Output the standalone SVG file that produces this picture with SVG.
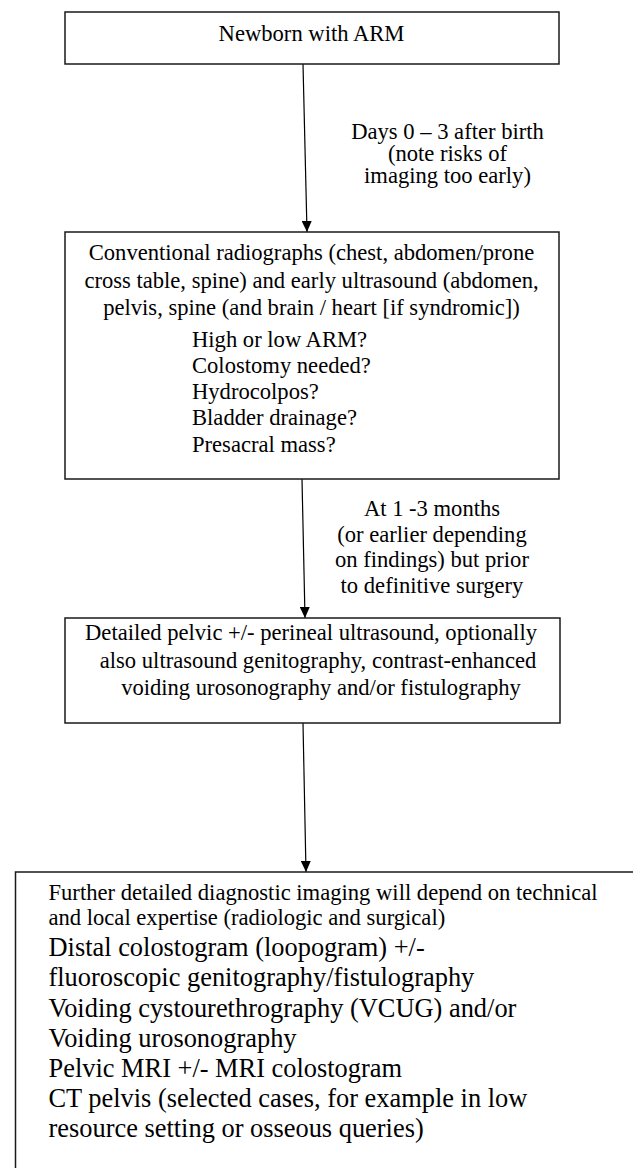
<svg xmlns="http://www.w3.org/2000/svg" width="633" height="1168" viewBox="0 0 633 1168">
<style>
  .box { fill: #ffffff; stroke: #1a1a1a; stroke-width: 1.5; }
  .t { font-family: "Liberation Serif", "Times New Roman", serif; font-size: 22.6px; fill: #000; }
  .big { font-size: 26.4px; }
  .c { text-anchor: middle; }
  .conn { stroke: #000; stroke-width: 1.2; fill: none; marker-end: url(#arr); }
</style>
<defs>
  <marker id="arr" viewBox="0 0 11 10" markerWidth="11" markerHeight="10" refX="11" refY="5" orient="auto" markerUnits="userSpaceOnUse">
    <path d="M0,0 L11,5 L0,10 Z" fill="#000"/>
  </marker>
</defs>
<rect width="633" height="1168" fill="#fff"/>

<g id="connectors">
  <line class="conn" x1="303" y1="64" x2="307" y2="232"/>
  <line class="conn" x1="302" y1="479" x2="305" y2="618"/>
  <line class="conn" x1="303" y1="723" x2="306" y2="872"/>
</g>

<g id="node-newborn">
  <rect class="box" x="65" y="12" width="494" height="52"/>
  <text class="t c" x="311.5" y="41">Newborn with ARM</text>
</g>

<g id="label-days">
  <text class="t c" x="447.5" y="139">Days 0 – 3 after birth</text>
  <text class="t c" x="447.5" y="161">(note risks of</text>
  <text class="t c" x="447.5" y="183">imaging too early)</text>
</g>

<g id="node-radiographs">
  <rect class="box" x="65" y="232" width="494" height="247"/>
  <text class="t c" x="311.5" y="260">Conventional radiographs (chest, abdomen/prone</text>
  <text class="t c" x="311.5" y="288">cross table, spine) and early ultrasound (abdomen,</text>
  <text class="t c" x="311.5" y="315">pelvis, spine (and brain / heart [if syndromic])</text>
  <text class="t" x="192" y="347">High or low ARM?</text>
  <text class="t" x="192" y="373">Colostomy needed?</text>
  <text class="t" x="192" y="399">Hydrocolpos?</text>
  <text class="t" x="192" y="425">Bladder drainage?</text>
  <text class="t" x="192" y="452">Presacral mass?</text>
</g>

<g id="label-months">
  <text class="t c" x="432" y="516">At 1 -3 months</text>
  <text class="t c" x="432" y="541.5">(or earlier depending</text>
  <text class="t c" x="432" y="567">on findings) but prior</text>
  <text class="t c" x="432" y="592.5">to definitive surgery</text>
</g>

<g id="node-pelvic-us">
  <rect class="box" x="65" y="618" width="495" height="105"/>
  <text class="t c" x="311" y="640">Detailed pelvic +/- perineal ultrasound, optionally</text>
  <text class="t c" x="318" y="668">also ultrasound genitography, contrast-enhanced</text>
  <text class="t c" x="321" y="695">voiding urosonography and/or fistulography</text>
</g>

<g id="node-further">
  <rect class="box" x="15.5" y="872" width="700" height="400"/>
  <text class="t" x="48.5" y="900">Further detailed diagnostic imaging will depend on technical</text>
  <text class="t" x="48.5" y="925">and local expertise (radiologic and surgical)</text>
  <text class="t big" x="48.5" y="956">Distal colostogram (loopogram) +/-</text>
  <text class="t big" x="48.5" y="986">fluoroscopic genitography/fistulography</text>
  <text class="t big" x="48.5" y="1017">Voiding cystourethrography (VCUG) and/or</text>
  <text class="t big" x="48.5" y="1047">Voiding urosonography</text>
  <text class="t big" x="48.5" y="1077">Pelvic MRI +/- MRI colostogram</text>
  <text class="t big" x="48.5" y="1107">CT pelvis (selected cases, for example in low</text>
  <text class="t big" x="48.5" y="1137">resource setting or osseous queries)</text>
</g>
</svg>
